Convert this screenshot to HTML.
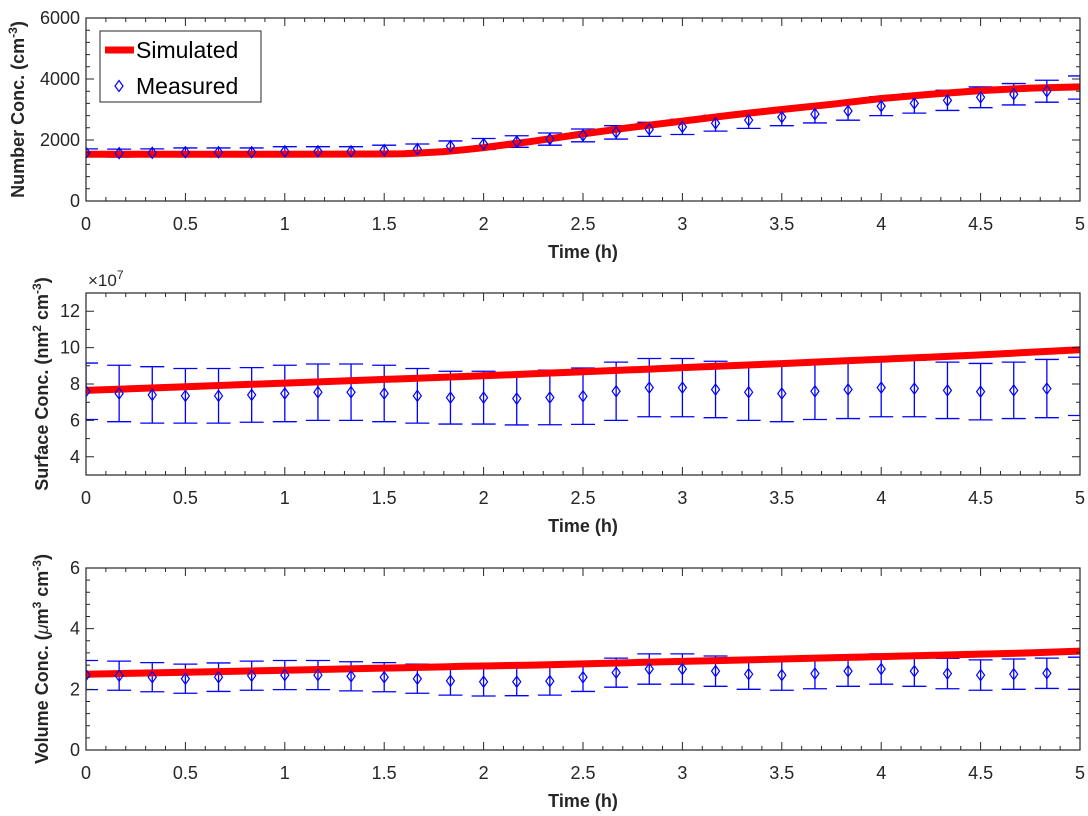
<!DOCTYPE html>
<html><head><meta charset="utf-8"><style>
html,body{margin:0;padding:0;background:#fff;}
svg{display:block;font-family:"Liberation Sans",Arial,sans-serif;}
</style></head><body>
<svg id="fig" width="1088" height="816" viewBox="0 0 1088 816" xmlns="http://www.w3.org/2000/svg"></svg>
<script>
// ---- shared x data ----
const times = [0,0.1667,0.3333,0.5,0.6667,0.8333,1,1.1667,1.3333,1.5,1.6667,1.8333,2,2.1667,2.3333,2.5,2.6667,2.8333,3,3.1667,3.3333,3.5,3.6667,3.8333,4,4.1667,4.3333,4.5,4.6667,4.8333,5];
const xTicks = [0,0.5,1,1.5,2,2.5,3,3.5,4,4.5,5];
const xTickLabels = ["0","0.5","1","1.5","2","2.5","3","3.5","4","4.5","5"];
const simTimes = [0,0.5,1,1.5,1.6,1.7,1.8,1.9,2,2.25,2.5,2.75,3,3.25,3.5,3.75,4,4.25,4.5,4.75,5];
// ---- number concentration ----
const numMeasured = [1580,1570,1580,1600,1600,1600,1630,1630,1630,1670,1700,1800,1870,1950,2030,2150,2250,2350,2430,2550,2650,2750,2850,2950,3110,3200,3300,3400,3500,3600,3720];
const numErr = [130,130,130,140,140,140,150,150,150,160,170,170,180,190,200,210,220,230,250,260,270,280,290,300,310,320,330,340,350,360,380];
const numSim = [1530,1530,1530,1540,1550,1580,1620,1680,1750,1960,2200,2420,2620,2820,3000,3170,3360,3500,3620,3700,3740];
const numYTicks = [0,2000,4000,6000];
// ---- surface concentration (x1e7) ----
const surfMeasured = [7.6,7.48,7.4,7.35,7.35,7.4,7.48,7.55,7.55,7.48,7.35,7.25,7.25,7.2,7.26,7.33,7.6,7.8,7.8,7.7,7.55,7.48,7.6,7.7,7.8,7.75,7.65,7.58,7.65,7.75,7.87];
const surfErr = [1.55,1.55,1.55,1.5,1.5,1.5,1.55,1.55,1.55,1.55,1.5,1.45,1.45,1.45,1.5,1.55,1.6,1.6,1.6,1.55,1.55,1.55,1.55,1.6,1.6,1.55,1.55,1.55,1.55,1.6,1.6];
const surfSim = [7.65,7.85,8.05,8.25,8.29,8.33,8.37,8.41,8.45,8.56,8.67,8.78,8.9,9.01,9.12,9.24,9.36,9.48,9.6,9.74,9.88];
const surfYTicks = [4,6,8,10,12];
// ---- volume concentration ----
const volMeasured = [2.47,2.45,2.4,2.35,2.4,2.45,2.47,2.47,2.43,2.4,2.35,2.28,2.25,2.25,2.27,2.4,2.55,2.67,2.67,2.6,2.5,2.47,2.52,2.6,2.67,2.6,2.52,2.47,2.5,2.53,2.53];
const volErr = [0.48,0.48,0.48,0.48,0.47,0.48,0.48,0.48,0.48,0.48,0.48,0.47,0.47,0.46,0.46,0.47,0.48,0.5,0.5,0.5,0.5,0.5,0.5,0.5,0.5,0.5,0.5,0.5,0.5,0.5,0.53];
const volSim = [2.5,2.56,2.63,2.7,2.71,2.73,2.74,2.76,2.77,2.8,2.84,2.88,2.92,2.96,3.0,3.04,3.08,3.12,3.16,3.2,3.26];
const volYTicks = [0,2,4,6];

const NS="http://www.w3.org/2000/svg";
const svg=document.getElementById('fig');
function mk(tag,attrs,parent){const e=document.createElementNS(NS,tag);for(const k in attrs)e.setAttribute(k,attrs[k]);(parent||svg).appendChild(e);return e;}

const X0=86,X1=1080;
function xs(t){return X0+(t/5)*(X1-X0);}

function panel(o){
  const ys=v=>o.bot-(v-o.ymin)/(o.ymax-o.ymin)*(o.bot-o.top);
  const g=mk('g',{});
  
  
  const cid='clip-'+o.name;
  const cp=mk('clipPath',{id:cid},g);
  mk('rect',{x:X0,y:o.top,width:X1-X0,height:o.bot-o.top},cp);
  const plot=mk('g',{'clip-path':'url(#'+cid+')'},g);
  times.forEach((t,i)=>{
    const x=xs(t),hi=ys(o.meas[i]+o.err[i]),lo=ys(o.meas[i]-o.err[i]);
    const eb=mk('path',{d:`M${x},${hi}V${lo}M${x-12},${hi}H${x+12}M${x-12},${lo}H${x+12}`,stroke:'#0000ff','stroke-width':1.3,fill:'none'},plot);
    
    
  });
  const d=o.sim.map((v,i)=>(i?'L':'M')+xs(simTimes[i]).toFixed(1)+','+ys(v).toFixed(1)).join('');
  const ln=mk('path',{d:d,stroke:'#ff0000','stroke-width':7,fill:'none','stroke-linejoin':'round'},plot);
  
  
  times.forEach((t,i)=>{
    if(t>=5) return;
    const x=xs(t),y=ys(o.meas[i]);
    const dm=mk('path',{d:`M${x},${y-5.5}L${x+4},${y}L${x},${y+5.5}L${x-4},${y}Z`,stroke:'#0000ff','stroke-width':1.2,fill:'none'},plot);
    
    
  });
  const box=mk('rect',{x:X0,y:o.top,width:X1-X0,height:o.bot-o.top,fill:'none',stroke:'#262626','stroke-width':1.2},g);
  
  
  let tp='';
  for(let k=0;k<=50;k++){const t=k*0.1,x=xs(t),L=(k%5===0)?8:4;tp+=`M${x},${o.bot}v${-L}M${x},${o.top}v${L}`;}
  for(let v=o.ymin;v<=o.ymax+1e-9;v+=o.minor){const y=ys(v);const maj=o.yt.some(q=>Math.abs(q-v)<1e-6);const L=maj?8:4;tp+=`M${X0},${y}h${L}M${X1},${y}h${-L}`;}
  mk('path',{d:tp,stroke:'#262626','stroke-width':1,fill:'none'},g);
  xTicks.forEach((t,i)=>{
    const tx=mk('text',{x:xs(t),y:o.bot+29,'font-size':18,fill:'#262626','text-anchor':'middle'},g);
    tx.textContent=xTickLabels[i];
    
    
  });
  o.yt.forEach(v=>{
    const tx=mk('text',{x:X0-6,y:ys(v)+6,'font-size':18,fill:'#262626','text-anchor':'end'},g);
    tx.textContent=String(v);
    
    
  });
  const xt=mk('text',{x:(X0+X1)/2,y:o.bot+57,'font-size':18,'font-weight':'bold',fill:'#262626','text-anchor':'middle'},g);
  xt.textContent='Time (h)';
  
  
  const cy=(o.top+o.bot)/2;
  const yt=mk('text',{x:0,y:0,'font-size':18,'font-weight':'bold',fill:'#262626','text-anchor':'middle',transform:`translate(${o.ytx},${cy}) rotate(-90)`},g);
  yt.innerHTML=o.ylab;
  
  
  return {g,ys};
}

panel({name:'number-panel',top:18,bot:201,ymin:0,ymax:6000,minor:400,yt:numYTicks,meas:numMeasured,err:numErr,sim:numSim,ytx:24,
  ylab:'Number Conc. (cm<tspan baseline-shift="super" font-size="12">-3</tspan>)'});
panel({name:'surface-panel',top:293,bot:475,ymin:3,ymax:13,minor:1,yt:surfYTicks,meas:surfMeasured,err:surfErr,sim:surfSim,ytx:48,
  ylab:'Surface Conc. (nm<tspan baseline-shift="super" font-size="12">2</tspan> cm<tspan baseline-shift="super" font-size="12">-3</tspan>)'});
panel({name:'volume-panel',top:568,bot:750,ymin:0,ymax:6,minor:0.4,yt:volYTicks,meas:volMeasured,err:volErr,sim:volSim,ytx:48,
  ylab:'Volume Conc. (<tspan font-style="italic" font-weight="normal">μ</tspan>m<tspan baseline-shift="super" font-size="12">3</tspan> cm<tspan baseline-shift="super" font-size="12">-3</tspan>)'});

const ex=mk('text',{x:88,y:286,'font-size':17,fill:'#262626'});
ex.innerHTML='×10<tspan baseline-shift="super" font-size="12">7</tspan>';



const lg=mk('g',{});


mk('rect',{x:100,y:31,width:161,height:71,fill:'#fff',stroke:'#262626','stroke-width':1},lg);
mk('line',{x1:105,y1:50,x2:134,y2:50,stroke:'#ff0000','stroke-width':7},lg);
const l1=mk('text',{x:136,y:58,'font-size':23,fill:'#000'},lg);l1.textContent='Simulated';


mk('path',{d:'M119,80.5L123,86L119,91.5L115,86Z',stroke:'#0000ff','stroke-width':1.2,fill:'none'},lg);
const l2=mk('text',{x:136,y:94,'font-size':23,fill:'#000'},lg);l2.textContent='Measured';


</script>
</body></html>
